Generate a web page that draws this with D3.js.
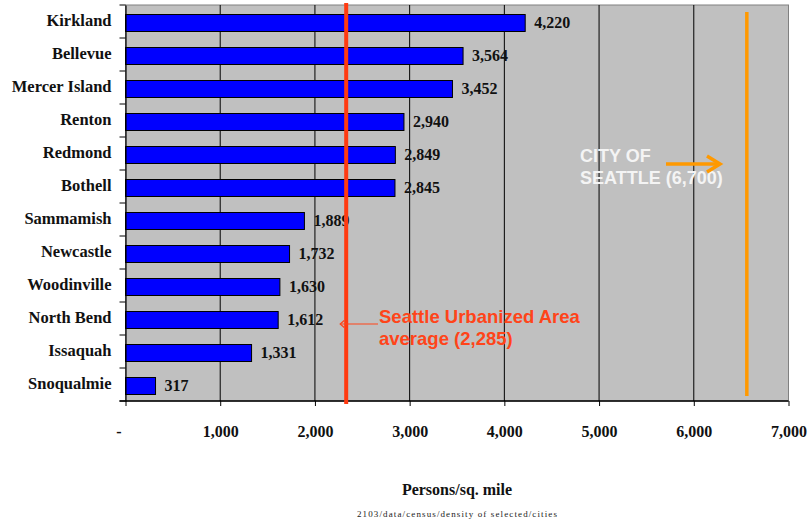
<!DOCTYPE html>
<html><head><meta charset="utf-8">
<script src="https://cdn.jsdelivr.net/npm/d3@7"></script>
<style>body{margin:0;background:#fff}</style>
</head><body>
<svg id="c" width="810" height="522"></svg>
<script>
const cities = ["Kirkland","Bellevue","Mercer Island","Renton","Redmond","Bothell","Sammamish","Newcastle","Woodinville","North Bend","Issaquah","Snoqualmie"];
const density = [4220,3564,3452,2940,2849,2845,1889,1732,1630,1612,1331,317];
const xTicks = [0,1000,2000,3000,4000,5000,6000,7000];
const xTickLabels = ["-","1,000","2,000","3,000","4,000","5,000","6,000","7,000"];
const urbanAvgLine = 2330;   // drawn position of the "2,285" average line
const seattleLine = 6560;    // drawn position of the "6,700" city line
const urbanLabel = ["Seattle Urbanized Area","average (2,285)"];
const seattleLabel = ["CITY OF","SEATTLE (6,700)"];

const svg = d3.select("#c");
const L = 125.5, R = 788.5, T = 5, B = 401;
const x = d3.scaleLinear().domain([0,7000]).range([L,R]);
const y = d3.scaleBand().domain(cities).range([T,B]).paddingInner(0.485).paddingOuter(0.2425);
const serif = "'Liberation Serif', 'Times New Roman', serif";
const sans = "'Liberation Sans', Arial, sans-serif";

// plot background
svg.append("rect").attr("x",L).attr("y",T).attr("width",R-L).attr("height",B-T)
  .attr("fill","#c0c0c0").attr("stroke","#808080").attr("stroke-width",1);

// gridlines
svg.append("g").selectAll("line").data(xTicks.slice(1,-1)).join("line")
  .attr("x1",d=>x(d)).attr("x2",d=>x(d)).attr("y1",T).attr("y2",B)
  .attr("stroke","#000").attr("stroke-width",1);

// bars
svg.append("g").selectAll("rect").data(density).join("rect")
  .attr("x",x(0)).attr("y",(d,i)=>y(cities[i])+1.5)
  .attr("width",d=>x(d)-x(0)).attr("height",y.bandwidth())
  .attr("fill","#0000ff").attr("stroke","#000").attr("stroke-width",1);

// value labels
svg.append("g").selectAll("text").data(density).join("text")
  .attr("x",d=>x(d)+9).attr("y",(d,i)=>y(cities[i])+y.bandwidth()/2+6)
  .attr("font-family",serif).attr("font-weight","bold").attr("font-size",16)
  .attr("fill","#111").text(d=>d3.format(",")(d));

// left axis
const yAxis = d3.axisLeft(y).tickSize(0).tickPadding(14);
const gy = svg.append("g").attr("transform",`translate(${L},0)`).call(yAxis);
gy.select(".domain").attr("stroke","#000").attr("stroke-width",1.2);
gy.selectAll("text").attr("font-family",serif).attr("font-weight","bold").attr("font-size",16.5).attr("fill","#111").attr("dy","0.3em");
// band boundary ticks
const bounds = cities.map(c=>y(c)-y.step()*y.paddingInner()/2).concat([B]);
svg.append("g").selectAll("line").data(bounds).join("line")
  .attr("x1",L-6).attr("x2",L).attr("y1",d=>d).attr("y2",d=>d)
  .attr("stroke","#000").attr("stroke-width",1);

// bottom axis
const xAxis = d3.axisBottom(x).tickValues(xTicks).tickSize(5).tickPadding(20)
  .tickFormat((d,i)=>xTickLabels[i]);
const gx = svg.append("g").attr("transform",`translate(0,${B})`).call(xAxis);
gx.select(".domain").attr("stroke","#000").attr("stroke-width",1.5).attr("d",`M${L-6},0H${R}`);
gx.selectAll(".tick line").attr("stroke","#000");
gx.selectAll("text").attr("font-family",serif).attr("font-weight","bold").attr("font-size",16).attr("fill","#111")
  .attr("dx",(d,i)=>i===0?-7:0);

// reference lines
svg.append("line").attr("x1",x(urbanAvgLine)).attr("x2",x(urbanAvgLine)).attr("y1",3).attr("y2",404)
  .attr("stroke","#ff3a10").attr("stroke-width",4);
svg.append("line").attr("x1",x(seattleLine)).attr("x2",x(seattleLine)).attr("y1",12).attr("y2",396)
  .attr("stroke","#ff9900").attr("stroke-width",3.5);

// urban annotation
const red = "#ff4419";
const tipX = x(urbanAvgLine)-6;
svg.append("line").attr("x1",378).attr("x2",tipX).attr("y1",324).attr("y2",324)
  .attr("stroke",red).attr("stroke-width",1.2);
svg.append("path").attr("d",`M${tipX+4},320.5 L${tipX},324 L${tipX+4},327.5`)
  .attr("fill","none").attr("stroke",red).attr("stroke-width",1.2);
svg.append("g").selectAll("text").data(urbanLabel).join("text")
  .attr("x",379).attr("y",(d,i)=>323+i*22)
  .attr("font-family",sans).attr("font-weight","bold").attr("font-size",18.5)
  .attr("fill",red).text(d=>d);

// seattle annotation
svg.append("g").selectAll("text").data(seattleLabel).join("text")
  .attr("x",580).attr("y",(d,i)=>162+i*22)
  .attr("font-family",sans).attr("font-weight","bold").attr("font-size",18)
  .attr("fill","#f4f4f4").text(d=>d);
svg.append("line").attr("x1",666).attr("x2",719).attr("y1",164).attr("y2",164)
  .attr("stroke","#ff9900").attr("stroke-width",3.5);
svg.append("path").attr("d","M707,156 L720,164 L707,172")
  .attr("fill","none").attr("stroke","#ff9900").attr("stroke-width",3.5);

// titles
svg.append("text").attr("x",457).attr("y",495).attr("text-anchor","middle")
  .attr("font-family",serif).attr("font-weight","bold").attr("font-size",16).attr("fill","#111")
  .text("Persons/sq. mile");
svg.append("text").attr("x",457).attr("y",517).attr("text-anchor","middle")
  .attr("font-family",serif).attr("font-size",9).attr("fill","#222")
  .attr("textLength",200).attr("lengthAdjust","spacing")
  .text("2103/data/census/density of selected/cities");
</script>
</body></html>
